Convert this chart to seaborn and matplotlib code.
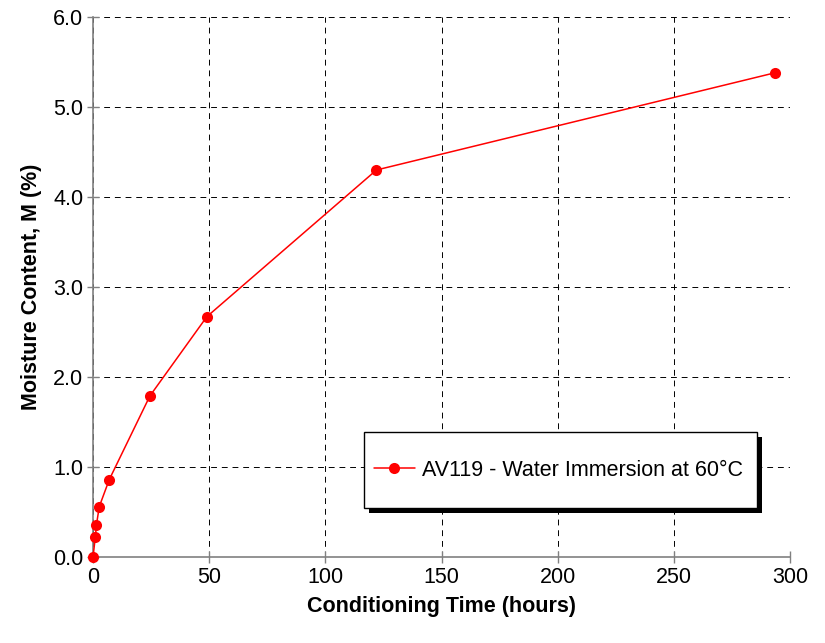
import numpy as np
import pandas as pd
import seaborn as sns
import matplotlib.pyplot as plt
from matplotlib.patches import Rectangle

sns.set_style("white")
plt.rcParams['font.family'] = ['Liberation Sans', 'DejaVu Sans']
plt.rcParams['text.color'] = 'black'
plt.rcParams['axes.labelcolor'] = 'black'

hours = [0, 1.0, 1.5, 2.7, 7.0, 24.5, 49, 122, 293.5]
moisture = [0.0, 0.22, 0.36, 0.56, 0.86, 1.79, 2.67, 4.30, 5.38]
series_name = "AV119 - Water Immersion at 60°C"

df = pd.DataFrame({"hours": hours, "moisture": moisture})

W, H = 825, 643
fig = plt.figure(figsize=(W/100, H/100), dpi=100)
ax = fig.add_axes([93/W, 1-557/H, (790-93)/W, (557-17)/H])

sns.lineplot(data=df, x="hours", y="moisture", ax=ax, color="#ff0000",
             marker="o", markersize=8, markeredgewidth=0, linewidth=1.1,
             label=series_name, clip_on=False, zorder=5)

ax.set_xlim(0, 300)
ax.set_ylim(0, 6)
ax.set_xticks(np.arange(0, 301, 50))
ax.set_yticks(np.arange(0, 6.1, 1))
ax.set_yticklabels([f"{v:.1f}" for v in np.arange(0, 6.1, 1)])
ax.grid(True, color="black", linestyle=(0, (6, 5)), linewidth=0.7)
for s in ["top", "right"]:
    ax.spines[s].set_visible(False)
for s in ["left", "bottom"]:
    ax.spines[s].set_color("#808080")
    ax.spines[s].set_linewidth(1.2)
ax.tick_params(axis="both", direction="inout", length=8, width=1, color="#808080",
               labelcolor="black", labelsize=15.5, pad=3, bottom=True, left=True)
ax.set_xlabel("Conditioning Time (hours)", fontsize=15.5, fontweight="bold", labelpad=6)
ax.set_ylabel("Moisture Content, M (%)", fontsize=15.5, fontweight="bold", labelpad=8)
for sp in ax.spines.values():
    sp.set_zorder(3)

# legend box with drop shadow (box drawn by hand, legend sits inside)
bx0, bx1, by0, by1 = 364, 757, 432, 508
shadow = Rectangle(((bx0+5)/W, 1-(by1+5)/H), (bx1-bx0)/W, (by1-by0)/H,
                   transform=fig.transFigure, facecolor="black", edgecolor="none",
                   zorder=6)
box = Rectangle((bx0/W, 1-by1/H), (bx1-bx0)/W, (by1-by0)/H,
                transform=fig.transFigure, facecolor="white", edgecolor="black",
                linewidth=1.0, zorder=7)
fig.add_artist(shadow)
fig.add_artist(box)

leg = ax.legend(loc="center", bbox_to_anchor=((bx0+bx1)/2/W - 2/W, 1-(by0+by1)/2/H),
                bbox_transform=fig.transFigure, fontsize=15.5, frameon=False,
                borderpad=0, handlelength=1.9, handletextpad=0.35,
                borderaxespad=0, labelcolor="black")
leg.remove()
fig.add_artist(leg)
leg.set_zorder(8)

fig.savefig("out.png", dpi=100)
